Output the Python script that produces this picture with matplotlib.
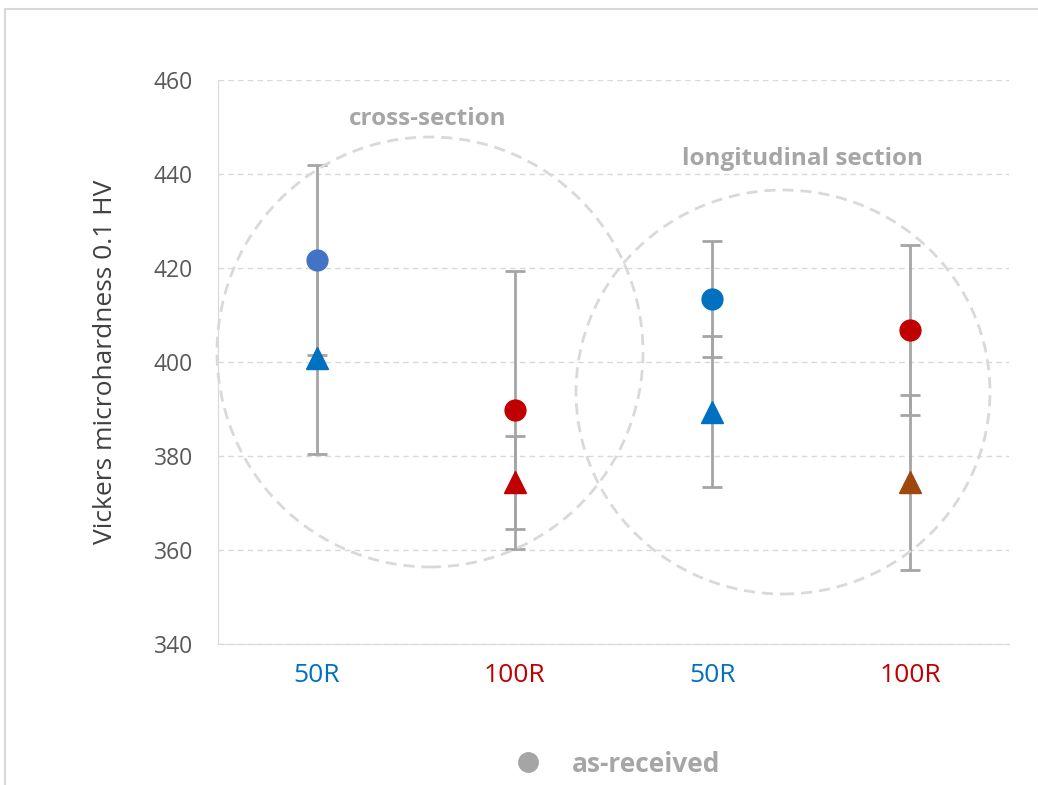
import matplotlib.pyplot as plt
import matplotlib.patches as patches
from matplotlib.lines import Line2D

# dati
categories = ["50R", "100R", "50R", "100R"]
cat_colors = ["#0070C0", "#C00000", "#0070C0", "#C00000"]

# cerchi (serie 1) e triangoli (serie 2)
circle_mean = [421.7, 389.8, 413.4, 406.8]
circle_err = [20.3, 29.6, 12.3, 18.1]
circle_colors = ["#4472C4", "#C00000", "#0070C0", "#C00000"]

tri_mean = [400.8, 374.4, 389.4, 374.4]
tri_err = [20.4, 9.9, 16.1, 18.6]
tri_colors = ["#0070C0", "#C00000", "#0070C0", "#9E480E"]

yticks = [340, 360, 380, 400, 420, 440, 460]

plt.rcParams["font.family"] = ["Open Sans", "DejaVu Sans"]

W, H = 1038, 785
fig = plt.figure(figsize=(W / 100, H / 100), dpi=100)
ax = fig.add_axes([218 / W, 1 - 644 / H, (1009 - 218) / W, (644 - 80) / H])


def px(x, y):
    # pixel -> frazione della figura
    return x / W, 1 - y / H


x = list(range(len(categories)))

# barre d'errore sotto i marker
ax.errorbar(x, circle_mean, yerr=circle_err, fmt="none", ecolor="#A5A5A5",
            elinewidth=2, capsize=7, capthick=2, zorder=2)
ax.errorbar(x, tri_mean, yerr=tri_err, fmt="none", ecolor="#A5A5A5",
            elinewidth=2, capsize=7, capthick=2, zorder=2)

for i in x:
    ax.plot(i, circle_mean[i], "o", ms=15, color=circle_colors[i], mec=circle_colors[i], zorder=3)
    ax.plot(i, tri_mean[i], "^", ms=16, color=tri_colors[i], mec=tri_colors[i], zorder=3)

ax.set_xlim(-0.5, 3.5)
ax.set_ylim(340, 460)
ax.set_yticks(yticks)
ax.set_xticks(x)
ax.set_xticklabels(categories, fontsize=19)
for lab, c in zip(ax.get_xticklabels(), cat_colors):
    lab.set_color(c)
ax.tick_params(axis="y", length=0, pad=18, labelsize=16.5, labelcolor="#595959")
ax.tick_params(axis="x", length=0, pad=14)

ax.grid(axis="y", color="#D9D9D9", linestyle=(0, (4, 3)), linewidth=1)
ax.set_axisbelow(True)
for s in ["top", "right"]:
    ax.spines[s].set_visible(False)
ax.spines["left"].set_color("#D9D9D9")
ax.spines["bottom"].set_color("#D9D9D9")

ax.set_ylabel("Vickers microhardness 0.1 HV", fontsize=19, color="#404040", labelpad=26)

# cerchi tratteggiati attorno ai gruppi
for (cx, cy, w, h) in [(430, 352, 426, 430), (783, 392, 414, 404)]:
    e = patches.Ellipse(px(cx, cy), w / W, h / H, transform=fig.transFigure,
                        fill=False, edgecolor="#D9D9D9", linewidth=2,
                        linestyle=(0, (4, 2.5)), zorder=1)
    fig.patches.append(e)

fig.text(*px(428, 119), "cross-section", ha="center", va="center",
         fontsize=17.5, fontweight="bold", color="#A6A6A6")
fig.text(*px(802, 159), "longitudinal section", ha="center", va="center",
         fontsize=17.5, fontweight="bold", color="#A6A6A6")

# legenda
handle = Line2D([], [], marker="o", linestyle="none", ms=14, color="#A5A5A5")
fig.legend([handle], ["as-received"], loc="center left", bbox_to_anchor=px(502, 764),
           frameon=False, handletextpad=0.63, borderpad=0, borderaxespad=0,
           prop={"size": 19, "weight": "bold"}, labelcolor="#A6A6A6")

# bordo della figura
fig.patches.append(patches.Rectangle(px(5, 790), 1.1, (790 - 9) / H, transform=fig.transFigure,
                                     fill=False, edgecolor="#D9D9D9", linewidth=1.5))

fig.savefig("out.png", dpi=100)
